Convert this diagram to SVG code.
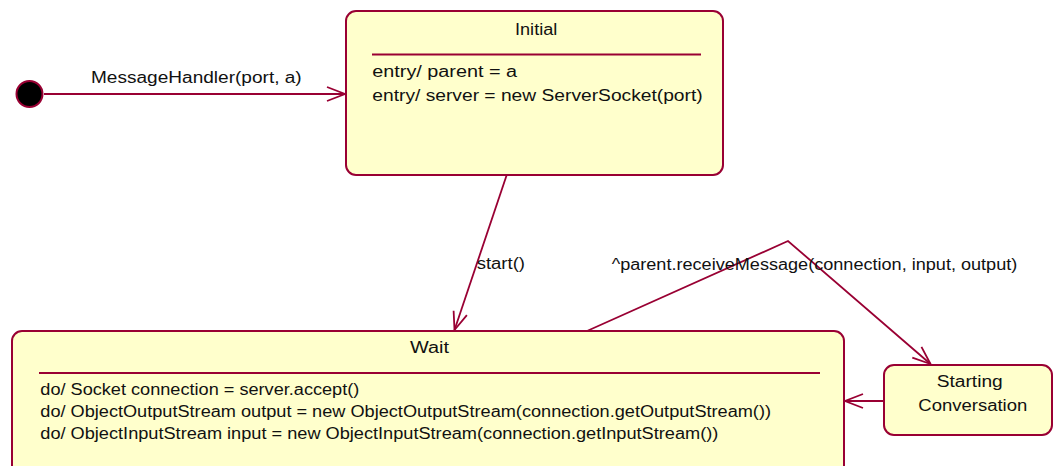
<svg xmlns="http://www.w3.org/2000/svg" width="1053" height="466" viewBox="0 0 1053 466">
<style>
.state{fill:#FFFFCC;stroke:#990033;stroke-width:2}
.div{stroke:#990033;stroke-width:2}
.edge{fill:none;stroke:#990033;stroke-width:1.8}
text{font-family:"Liberation Sans",Arial,sans-serif;fill:#111;font-size:16px}
</style>
<defs>
<marker id="arr" markerUnits="userSpaceOnUse" markerWidth="24" markerHeight="20" viewBox="-20 -10 24 20" refX="0" refY="0" orient="auto">
<path d="M-18,-7 L0,0 L-18,7" fill="none" stroke="#990033" stroke-width="1.8"/>
</marker>
</defs>
<rect width="1053" height="466" fill="#FFFFFF"/>
<g id="connectors">
<line class="edge" x1="44" y1="94" x2="345" y2="94" marker-end="url(#arr)"/>
<text x="91" y="83" textLength="210.7" lengthAdjust="spacingAndGlyphs">MessageHandler(port, a)</text>
<line class="edge" x1="506.7" y1="175" x2="454.5" y2="330" marker-end="url(#arr)"/>
<text x="476.7" y="269" textLength="48.3" lengthAdjust="spacingAndGlyphs">start()</text>
<polyline class="edge" points="587,331 788,241 930.5,364" marker-end="url(#arr)"/>
<text x="611.7" y="270" textLength="405.6" lengthAdjust="spacingAndGlyphs">^parent.receiveMessage(connection, input, output)</text>
<line class="edge" x1="884" y1="401" x2="845" y2="401" marker-end="url(#arr)"/>
</g>
<g id="start">
<circle cx="29.5" cy="94" r="13" fill="#000000" stroke="#990033" stroke-width="2"/>
</g>
<g id="initial">
<rect class="state" x="346" y="11" width="377" height="164" rx="10"/>
<text x="515" y="35" textLength="42.3" lengthAdjust="spacingAndGlyphs">Initial</text>
<line class="div" x1="372" y1="54.5" x2="701" y2="54.5"/>
<text x="372.3" y="77" textLength="144.7" lengthAdjust="spacingAndGlyphs">entry/ parent = a</text>
<text x="372.3" y="101" textLength="330.4" lengthAdjust="spacingAndGlyphs">entry/ server = new ServerSocket(port)</text>
</g>
<g id="wait">
<rect class="state" x="12" y="331" width="832" height="145" rx="10"/>
<text x="410" y="353" textLength="39" lengthAdjust="spacingAndGlyphs">Wait</text>
<line class="div" x1="39" y1="373" x2="820" y2="373"/>
<text x="40.3" y="395" textLength="319" lengthAdjust="spacingAndGlyphs">do/ Socket connection = server.accept()</text>
<text x="40.3" y="417" textLength="730.7" lengthAdjust="spacingAndGlyphs">do/ ObjectOutputStream output = new ObjectOutputStream(connection.getOutputStream())</text>
<text x="40.3" y="439" textLength="678" lengthAdjust="spacingAndGlyphs">do/ ObjectInputStream input = new ObjectInputStream(connection.getInputStream())</text>
</g>
<g id="starting">
<rect class="state" x="884" y="365" width="168" height="70" rx="10"/>
<text x="936.7" y="387" textLength="66" lengthAdjust="spacingAndGlyphs">Starting</text>
<text x="918.3" y="411" textLength="109" lengthAdjust="spacingAndGlyphs">Conversation</text>
</g>
</svg>
